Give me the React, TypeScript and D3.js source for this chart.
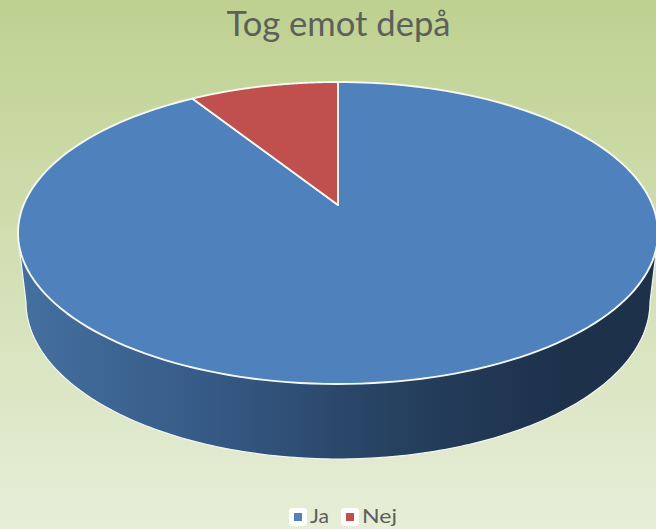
import React from "react";
import * as d3 from "d3";

const categories = ["Ja", "Nej"];
const values = [91, 9];
const sliceColors = ["#4f81bd", "#c0504d"];
const title = "Tog emot depå";

const W = 656;
const H = 529;
const FONT = "Lato, 'Open Sans', sans-serif";

// perspective disc: the pie's centre sits above the centre of the drawn ellipse
const cx = 338;
const yFar = 82;
const yNear = 384;
const yApex = 205;
const rxTop = 320;
const k = (yFar + yNear - 2 * yApex) / (yNear - yFar);
const a = yFar + yFar * k - yApex;
const R = rxTop * Math.sqrt(1 - k * k);

function project(theta: number): [number, number] {
  const x = Math.sin(theta);
  const y = Math.cos(theta);
  const w = 1 + k * y;
  return [cx + (R * x) / w, (a * y + yApex) / w];
}

const lineGen = d3.line<[number, number]>();
const STEPS = 180;

function sectorPath(start: number, end: number): string {
  const angles = d3.range(STEPS + 1).map((i) => start + ((end - start) * i) / STEPS);
  const rim = angles.map(project);
  return lineGen([[cx, yApex], ...rim])! + "Z";
}

// side wall: hangs from the widest points of the top face down to the base ellipse
const wallTopY = 245;
const baseCy = 302;
const baseRy = 157;
const baseRx = 312;

function sidePath(): string {
  const base = d3
    .range(STEPS + 1)
    .map((i) => Math.PI - (Math.PI * i) / STEPS)
    .map((t): [number, number] => [cx - baseRx * Math.cos(t), baseCy + baseRy * Math.sin(t)]);
  return lineGen([[cx - rxTop + 1, wallTopY], ...base.reverse(), [cx + rxTop - 1, wallTopY]])! + "Z";
}

export default function App() {
  const arcs = d3
    .pie<number>()
    .sort(null)
    .startAngle(0)
    .endAngle(2 * Math.PI)(values);

  return (
    <svg
      width={W}
      height={H}
      viewBox={`0 0 ${W} ${H}`}
      style={{ position: "fixed", left: 0, top: 0, display: "block" }}
    >
      <defs>
        <linearGradient id="bg" x1="0" y1="0" x2="0" y2="1">
          <stop offset="0" stopColor="#bed190" />
          <stop offset="1" stopColor="#e7eed8" />
        </linearGradient>
        <linearGradient id="side" gradientUnits="userSpaceOnUse" x1={20} y1={0} x2={560} y2={0}>
          <stop offset="0" stopColor="#44709f" />
          <stop offset="0.35" stopColor="#365a86" />
          <stop offset="0.7" stopColor="#26405f" />
          <stop offset="1" stopColor="#1d314b" />
        </linearGradient>
      </defs>
      <rect width={W} height={H} fill="url(#bg)" />

      <path d={sidePath()} fill="url(#side)" stroke="#f4f6ee" strokeWidth={1.2} />
      {arcs.map((d, i) => (
        <path
          key={categories[i]}
          d={sectorPath(d.startAngle, d.endAngle)}
          fill={sliceColors[i]}
          stroke="#f6f8f2"
          strokeWidth={1.9}
          strokeLinejoin="round"
        />
      ))}

      <text
        x={338.5}
        y={36}
        textAnchor="middle"
        fontFamily={FONT}
        fontSize={34}
        fill="#5c605a"
        textLength={224}
        lengthAdjust="spacingAndGlyphs"
      >
        {title}
      </text>

      {categories.map((c, i) => {
        const boxX = [289, 341][i];
        const labelWidth = [19, 35][i];
        return (
          <g key={c}>
            <rect x={boxX} y={508} width={18} height={18} rx={3} fill="#ffffff" />
            <rect x={boxX + 5} y={513} width={8} height={8} fill={sliceColors[i]} />
            <text
              x={boxX + 21}
              y={523}
              fontFamily={FONT}
              fontSize={20}
              fill="#5c605a"
              textLength={labelWidth}
              lengthAdjust="spacingAndGlyphs"
            >
              {c}
            </text>
          </g>
        );
      })}
    </svg>
  );
}
